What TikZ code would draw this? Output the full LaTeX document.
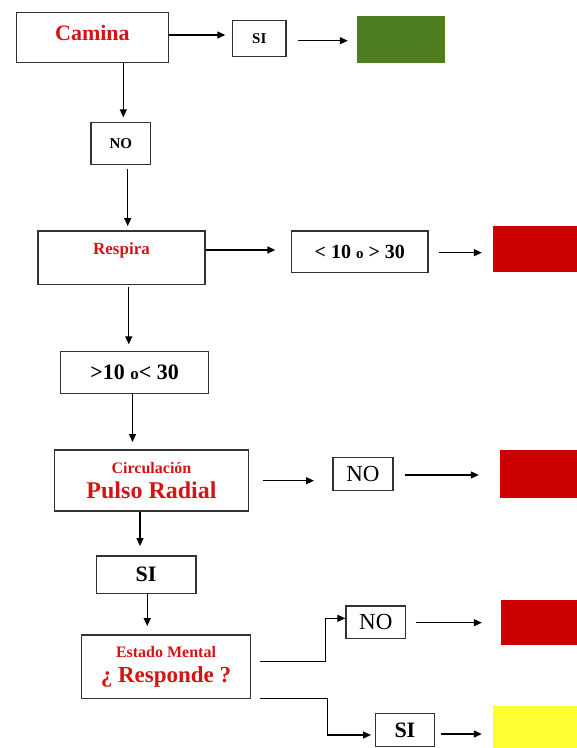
\documentclass[tikz,border=0pt]{standalone}
\usepackage{fontspec}
\setmainfont{Liberation Serif}
\usetikzlibrary{arrows.meta}
\definecolor{flagred}{RGB}{204,0,0}
\definecolor{flaggreen}{RGB}{78,126,32}
\definecolor{flagyellow}{RGB}{255,255,51}
\definecolor{txtred}{RGB}{212,20,20}

\begin{document}
\begin{tikzpicture}[x=1pt, y=-1pt,
    box/.style={draw=black!80, line width=1.4pt, inner sep=0pt},
    flag/.style={inner sep=0pt, minimum height=#1},
    arr/.style={line width=1.3pt, -{Triangle[length=8pt,width=7pt]}}]
    \useasboundingbox (0,0) rectangle (577,748);

    % first question
    \node[box, text=txtred, font=\bfseries\fontsize{22}{26}\selectfont, minimum width=151.6pt, minimum height=50pt, text height=14.6pt, text depth=9.4pt] (camina) at (92.4,37.7) {Camina};
    \node[box, font=\bfseries\fontsize{15}{17}\selectfont, minimum width=53.4pt, minimum height=36pt] (si1) at (259.3,38.7) {SI};
    \node[flag=47.6pt, fill=flaggreen, minimum width=87.6pt] (green) at (400.8,39.5) {};
    \node[box, font=\bfseries\fontsize{15}{17}\selectfont, minimum width=59.5pt, minimum height=41.6pt] (no1) at (120.8,143.5) {NO};

    % breathing
    \node[box, text=txtred, font=\bfseries\fontsize{17}{20}\selectfont, minimum width=167pt, minimum height=53.3pt, text height=11.3pt, text depth=17pt] (respira) at (121.5,257.7) {Respira};
    \node[box, font=\bfseries\fontsize{20}{24}\selectfont, minimum width=136.5pt, minimum height=41.7pt] (rng1) at (359.8,251.9) {< 10 {\fontsize{15}{17}\selectfont o} > 30};
    \node[flag=45.7pt, fill=flagred, minimum width=88pt] (red1) at (537,248.9) {};
    \node[box, font=\bfseries\fontsize{22}{26}\selectfont, minimum width=148pt, minimum height=41.6pt] (rng2) at (134.7,372.5) {>10 {\fontsize{17}{20}\selectfont o}< 30};

    % circulation
    \node[box, text=txtred, font=\bfseries\fontsize{24}{26}\selectfont, align=center, minimum width=194pt, minimum height=61pt] (circ) at (151.5,480.5) {{\fontsize{16}{18}\selectfont Circulación}\\[-1pt] Pulso Radial};
    \node[box, font=\fontsize{23}{26}\selectfont, minimum width=60pt, minimum height=33pt] (no2) at (363,474.2) {NO};
    \node[flag=47.7pt, fill=flagred, minimum width=81.5pt] (red2) at (540.3,473.9) {};
    \node[box, font=\bfseries\fontsize{22}{26}\selectfont, minimum width=99.4pt, minimum height=37.3pt] (si2) at (146.1,574.7) {SI};

    % mental state
    \node[box, text=txtred, font=\bfseries\fontsize{23}{26}\selectfont, align=center, minimum width=168.6pt, minimum height=63.3pt] (estado) at (166,666.7) {{\fontsize{16}{18}\selectfont Estado Mental}\\[-1pt] ¿ Responde ?};
    \node[box, font=\fontsize{23}{26}\selectfont, minimum width=59.6pt, minimum height=32.3pt] (no3) at (375.8,622.2) {NO};
    \node[flag=45pt, fill=flagred, minimum width=80.5pt] (red3) at (540.8,622.5) {};
    \node[box, font=\bfseries\fontsize{22}{26}\selectfont, minimum width=59pt, minimum height=33.4pt] (si3) at (404.9,730) {SI};
    \node[flag=44pt, fill=flagyellow, minimum width=88pt] (yellow) at (537,728) {};

    % connectors
    \draw[arr, shorten >=6.6pt] (camina.east |- 0,35) -- (si1.west |- 0,35);
    \draw[arr, shorten <=11pt, shorten >=9pt] (si1.east |- 0,40.7) -- (green.west |- 0,40.7);
    \draw[arr, shorten >=4.7pt] (camina.south -| 123.3,0) -- (no1.north -| 123.3,0);
    \draw[arr, shorten <=3.7pt, shorten >=4.3pt] (no1.south -| 127.7,0) -- (respira.north -| 127.7,0);
    \draw[arr, shorten >=15.5pt] (respira.east |- 0,250) -- (rng1.west |- 0,250);
    \draw[arr, shorten <=10pt, shorten >=11pt] (rng1.east |- 0,252.7) -- (red1.west |- 0,252.7);
    \draw[arr, shorten <=2.4pt, shorten >=6.7pt] (respira.south -| 128.8,0) -- (rng2.north -| 128.8,0);
    \draw[arr, shorten >=7.3pt] (rng2.south -| 132.5,0) -- (circ.north -| 132.5,0);
    \draw[arr, shorten <=13.6pt, shorten >=18.3pt] (circ.east |- 0,480.7) -- (no2.west |- 0,480.7);
    \draw[arr, shorten <=11pt, shorten >=20.5pt] (no2.east |- 0,475) -- (red2.west |- 0,475);
    \draw[arr, shorten >=9.3pt] (circ.south -| 140,0) -- (si2.north -| 140,0);
    \draw[arr, shorten >=8.3pt] (si2.south -| 147.2,0) -- (estado.north -| 147.2,0);
    \draw[arr, shorten <=9.2pt] (estado.east |- 0,661.7) -- (325.7,661.7) |- (no3.west |- 0,618.3);
    \draw[arr, shorten <=9.4pt, shorten >=18.5pt] (no3.east |- 0,622.7) -- (red3.west |- 0,622.7);
    \draw[arr, shorten <=9.2pt, shorten >=3.7pt] (estado.east |- 0,698.3) -- (327.6,698.3) |- (si3.west |- 0,735);
    \draw[arr, shorten <=5.7pt, shorten >=11pt] (si3.east |- 0,734) -- (yellow.west |- 0,734);
\end{tikzpicture}
\end{document}
